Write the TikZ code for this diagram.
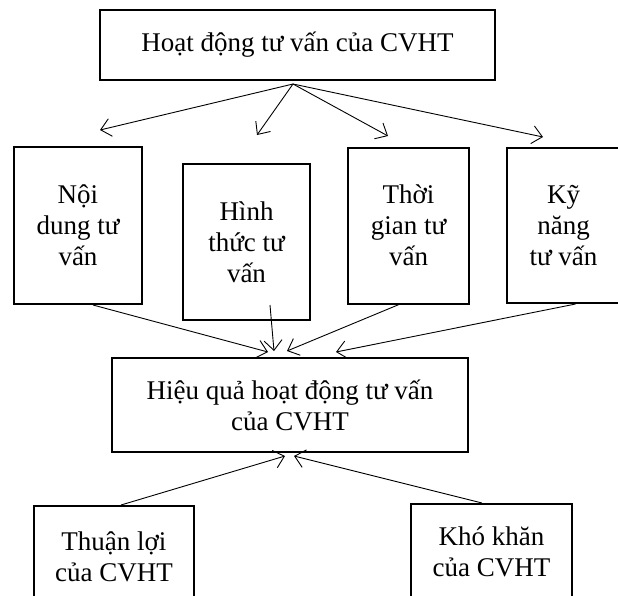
\documentclass[tikz,border=0pt]{standalone}
\usepackage{fontspec}
\setmainfont{Liberation Serif}
\usepackage{tikz}
\usetikzlibrary{positioning,arrows.meta}

\begin{document}
\begin{tikzpicture}
[
x=1pt, y=1pt,
box-a/.style={draw, line width=2pt, align=center, inner sep=0pt, font=\fontsize{27}{31}\selectfont},
arr-a/.style={line width=0.9pt, -{Straight Barb[length=10pt, width=18pt, line width=0.9pt]}}
]
\useasboundingbox (0,0) rectangle (618,-595);
\clip (0,0) rectangle (618,-595);
\node (hd)  [box-a, minimum width=395pt, minimum height=70pt]                              at (297.5,-45)  {Hoạt động tư vấn của CVHT};
\node (nd)  [box-a, minimum width=128pt, minimum height=157pt]                             at (78,-225.5)  {Nội\\dung tư\\vấn};
\node (ht)  [box-a, minimum width=127pt, minimum height=156pt, right = 39pt of nd, yshift=-16.5pt]         {Hình\\thức tư\\vấn};
\node (tg)  [box-a, minimum width=121pt, minimum height=156pt, right = 36pt of ht, yshift=16.5pt]          {Thời\\gian tư\\vấn};
\node (kn)  [box-a, minimum width=113pt, minimum height=155pt, right = 36pt of tg]                         {Kỹ\\năng\\tư vấn};
\node (hq)  [box-a, minimum width=356pt, minimum height=94pt]                              at (290,-405)   {Hiệu quả hoạt động tư vấn\\của CVHT};
\node (tl)  [box-a, minimum width=160pt, minimum height=102pt]                             at (114,-557)   {Thuận lợi\\của CVHT};
\node (kk)  [box-a, minimum width=161pt, minimum height=96pt]                              at (491.5,-552) {Khó khăn\\của CVHT};
% arrows from the top box
\coordinate (hd-o) at (293,-84);
\coordinate (nd-t) at (100,-130);
\coordinate (ht-t) at (257,-135);
\coordinate (tg-t) at (388,-136);
\coordinate (kn-t) at (543,-137);
\draw [arr-a] (hd-o) -- (nd-t);
\draw [arr-a] (hd-o) -- (ht-t);
\draw [arr-a] (hd-o) -- (tg-t);
\draw [arr-a] (hd-o) -- (kn-t);
% arrows into the middle box
\draw [arr-a] ([xshift=15pt]nd.south)              -- ([xshift=-22pt, yshift=5pt]hq.north);
\draw [arr-a] ([xshift=23.5pt, yshift=16pt]ht.south) -- ([xshift=-16pt, yshift=6pt]hq.north);
\draw [arr-a] ([xshift=-9.5pt]tg.south)            -- ([xshift=-3pt, yshift=6pt]hq.north);
\draw [arr-a] ([xshift=12pt]kn.south)              -- ([xshift=46pt, yshift=5pt]hq.north);
\draw [arr-a] ([xshift=7pt]tl.north)               -- ([xshift=-5pt, yshift=-3pt]hq.south);
\draw [arr-a] ([xshift=-9.5pt]kk.north)            -- ([xshift=4pt, yshift=-3pt]hq.south);
\end{tikzpicture}
\end{document}
